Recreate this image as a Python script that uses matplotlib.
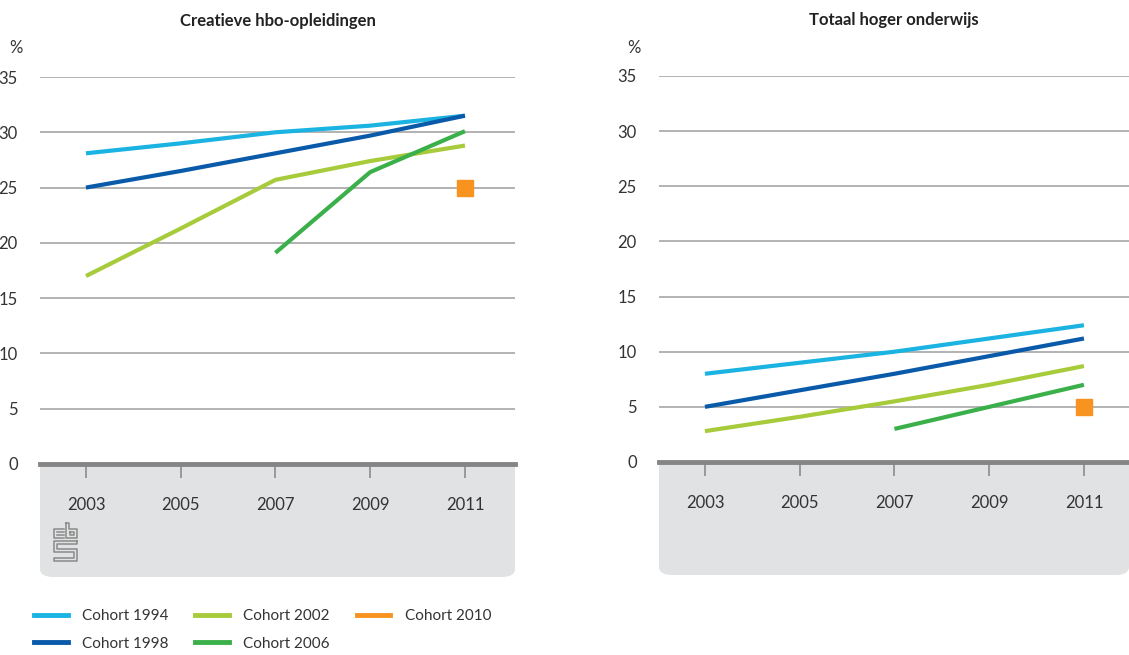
import matplotlib
matplotlib.use("Agg")
import matplotlib.pyplot as plt
from matplotlib.lines import Line2D
from matplotlib.patches import FancyBboxPatch, Rectangle

plt.rcParams["font.family"] = ["Lato", "DejaVu Sans"]

years = [2003, 2005, 2007, 2009, 2011]
cohorts = ["Cohort 1994", "Cohort 1998", "Cohort 2002", "Cohort 2006", "Cohort 2010"]
colors = ["#1ab3e2", "#0a5aaa", "#a7cb3a", "#3bb04a", "#f7931e"]

# Creatieve hbo-opleidingen (left)
hbo_1994 = [28.1, 29.0, 30.0, 30.6, 31.5]
hbo_1998 = [25.0, 26.5, 28.1, 29.7, 31.5]
hbo_2002 = [17.0, 21.3, 25.7, 27.4, 28.8]
hbo_2006 = [None, None, 19.1, 26.4, 30.1]
hbo_2010 = [None, None, None, None, 25.0]

# Totaal hoger onderwijs (right)
ho_1994 = [8.0, 9.0, 10.0, 11.2, 12.4]
ho_1998 = [5.0, 6.5, 8.0, 9.6, 11.2]
ho_2002 = [2.8, 4.1, 5.5, 7.0, 8.7]
ho_2006 = [None, None, 3.0, 5.0, 7.0]
ho_2010 = [None, None, None, None, 5.0]

yticks = [0, 5, 10, 15, 20, 25, 30, 35]

W, H = 1129, 655
fig = plt.figure(figsize=(W / 100, H / 100), dpi=100)


def fx(px):
    return px / W


def fy(py):
    return 1 - py / H


BOX = "#e1e2e4"
GRID = "#a6a6a6"
BASE = "#858585"
TXT = "#333333"


def panel(left, right, top, zero, box_bottom, box_right, title, series, pct_x):
    ax = fig.add_axes([fx(left), fy(zero), fx(right - left), fy(top) - fy(zero)])
    # grey box under the axis
    bx0, bx1 = fx(left), fx(box_right)
    by0, by1 = fy(box_bottom), fy(zero)
    fig.patches.append(FancyBboxPatch(
        (bx0, by0), bx1 - bx0, by1 - by0,
        boxstyle="round,pad=0,rounding_size=0.012",
        transform=fig.transFigure, facecolor=BOX, edgecolor="none", zorder=-5))
    fig.patches.append(Rectangle(
        (bx0, by0 + 0.03), bx1 - bx0, by1 - by0 - 0.03,
        transform=fig.transFigure, facecolor=BOX, edgecolor="none", zorder=-5))

    ax.set_facecolor("none")
    for y in yticks[1:]:
        ax.axhline(y, color=GRID, lw=1.2, zorder=1)
    ax.axhline(0, color=BASE, lw=3.5, zorder=2, clip_on=False)

    for vals, c in zip(series[:4], colors[:4]):
        xs = [x for x, v in zip(years, vals) if v is not None]
        ys = [v for v in vals if v is not None]
        ax.plot(xs, ys, color=c, lw=3, solid_capstyle="butt", zorder=3)
    xs = [x for x, v in zip(years, series[4]) if v is not None]
    ys = [v for v in series[4] if v is not None]
    ax.plot(xs, ys, ls="none", marker="s", ms=11.5, color=colors[4],
            mec=colors[4], zorder=4)

    ax.set_xlim(2002.03, 2002.03 + (right - left) / ((465 - 86) / 8))
    ax.set_ylim(0, 35)
    ax.set_xticks(years)
    ax.set_yticks(yticks)
    ax.tick_params(axis="x", length=10, width=1.2, color="#8c8c8c", pad=14,
                   labelsize=12, labelcolor=TXT)
    ax.tick_params(axis="y", length=0, pad=16, labelsize=12, labelcolor=TXT)
    for s in ax.spines.values():
        s.set_visible(False)
    ax.set_title(title, fontsize=12, fontweight="bold", color="#222222", pad=37)
    fig.text(fx(pct_x), fy(48), "%", fontsize=12, color=TXT, va="center")
    return ax


panel(40, 515, 77, 464, 577, 515, "Creatieve hbo-opleidingen",
      [hbo_1994, hbo_1998, hbo_2002, hbo_2006, hbo_2010], 9)
panel(659, 1129, 76, 462, 575, 1129, "Totaal hoger onderwijs",
      [ho_1994, ho_1998, ho_2002, ho_2006, ho_2010], 627)

# cbs logo (decoration)
logo = [
    [(64, 529), (54, 529), (54, 538), (64, 538)],
    [(57, 532), (64, 532)], [(57, 535), (64, 535)],
    [(66, 523), (66, 538), (77, 538), (77, 529), (69, 529), (69, 523), (66, 523)],
    [(70, 532), (74, 532), (74, 535), (70, 535), (70, 532)],
    [(77, 541), (54, 541), (54, 552), (74, 552), (74, 558), (54, 558), (54, 561),
     (77, 561), (77, 549), (57, 549), (57, 544), (77, 544), (77, 541)],
]
for pts in logo:
    fig.add_artist(Line2D([fx(p[0]) for p in pts], [fy(p[1]) for p in pts],
                          transform=fig.transFigure, color="#8a8a8a", lw=1.1))

handles = [Line2D([], [], color=c, lw=3.5) for c in colors]
fig.legend(handles, cohorts, loc="upper left", bbox_to_anchor=(fx(34), fy(609)),
           ncol=3, frameon=False, fontsize=11, handlelength=2.2,
           handletextpad=0.95, columnspacing=1.75, labelspacing=0.9,
           borderpad=0, borderaxespad=0, labelcolor=TXT)

fig.savefig("out.png", dpi=100)
